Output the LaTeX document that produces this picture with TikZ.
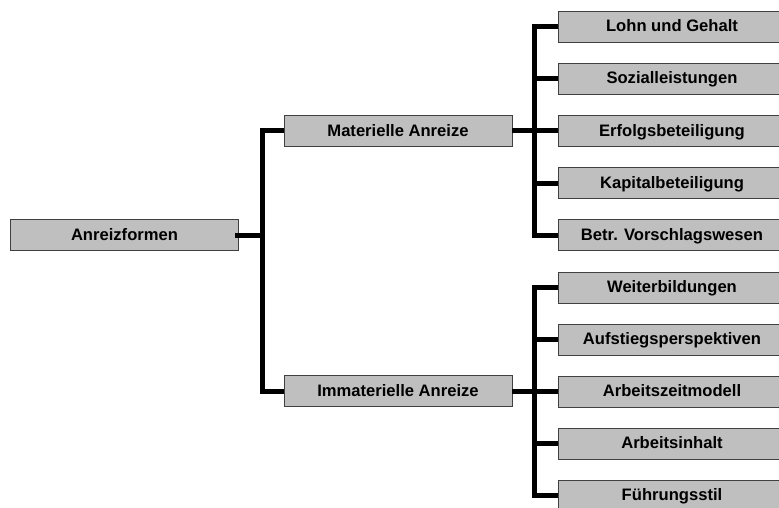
\documentclass[tikz,border=0pt]{standalone}
\usepackage{fontspec}
\setmainfont{Liberation Sans}
\begin{document}
\begin{tikzpicture}[
		x={(1pt,0pt)},
		y={(0pt,-1pt)},
		box/.style={draw=black!75,line width=0.8pt,fill=gray!50,minimum width=228pt,minimum height=31pt,inner sep=0pt,text height=12pt,text depth=2pt,font=\fontsize{16.6}{19}\selectfont\bfseries},
		conn/.style={line width=5pt,line join=miter},
	]
		\useasboundingbox (0,0) rectangle (779,508);
		
		\node[box] (anreiz) at(124.5,235) {Anreizformen};
		\node[box] (mat) at(398,131) {Materielle Anreize};
		\node[box] (imm) at(398,391) {Immaterielle Anreize};
		
		\foreach \n/\t in {1/Lohn und Gehalt, 2/Sozialleistungen, 3/Erfolgsbeteiligung, 4/Kapitalbeteiligung, 5/Betr. Vorschlagswesen}{
			\node[box] (m\n) at(672,{27+(\n-1)*52}) {\t};
		}
		\foreach \n/\t in {1/Weiterbildungen, 2/Aufstiegsperspektiven, 3/Arbeitszeitmodell, 4/Arbeitsinhalt, 5/Führungsstil}{
			\node[box] (i\n) at(672,{287.5+(\n-1)*52}) {\t};
		}
		
		\coordinate (ta) at(262,0);
		\coordinate (tm) at(534,0);
		
		\draw[conn] ([xshift=-4pt]anreiz.east) -- (anreiz.east -| ta);
		\draw[conn] (mat.west) -- (mat.west -| ta) -- (imm.west -| ta) -- (imm.west);
		
		\draw[conn] (mat.east) -- (mat.east -| tm);
		\draw[conn] (m1.west) -- (m1.west -| tm) -- (m5.west -| tm) -- (m5.west);
		\draw[conn] (imm.east) -- (imm.east -| tm);
		\draw[conn] (i1.west) -- (i1.west -| tm) -- (i5.west -| tm) -- (i5.west);
		\foreach \n in {2,3,4}{
			\draw[conn] (m\n.west -| tm) -- (m\n.west);
			\draw[conn] (i\n.west -| tm) -- (i\n.west);
		}
	\end{tikzpicture}
\end{document}
